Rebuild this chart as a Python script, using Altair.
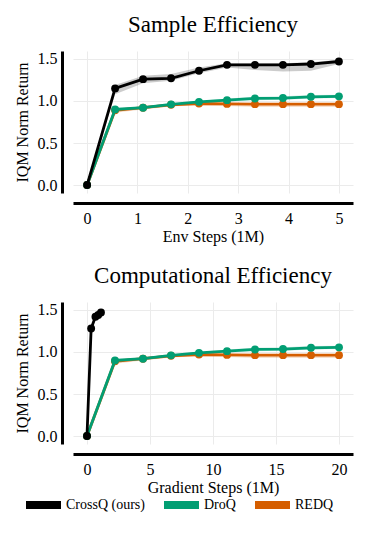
import altair as alt
import pandas as pd

FONT = "Liberation Serif"

methods = ["CrossQ (ours)", "DroQ", "REDQ"]
colors = ["#000000", "#029E73", "#D55E00"]
band_colors = ["#000000", "#029E73", "#D55E00"]

# Sample efficiency panel (x in 1M env steps)
env_x = [0, 0.556, 1.111, 1.667, 2.222, 2.778, 3.333, 3.889, 4.444, 5.0]
crossq_y = [0, 1.15, 1.26, 1.27, 1.36, 1.43, 1.43, 1.43, 1.44, 1.47]
crossq_lo = [0, 1.08, 1.21, 1.24, 1.33, 1.40, 1.37, 1.35, 1.36, 1.44]
crossq_hi = [0, 1.19, 1.30, 1.32, 1.40, 1.45, 1.45, 1.45, 1.46, 1.49]
droq_y = [0, 0.90, 0.92, 0.96, 0.99, 1.01, 1.03, 1.035, 1.05, 1.055]
droq_lo = [0, 0.88, 0.905, 0.945, 0.975, 0.995, 1.01, 1.015, 1.03, 1.035]
droq_hi = [0, 0.915, 0.935, 0.97, 1.0, 1.03, 1.05, 1.055, 1.07, 1.075]
redq_y = [0, 0.89, 0.92, 0.955, 0.97, 0.965, 0.962, 0.962, 0.962, 0.962]
redq_lo = [0, 0.86, 0.90, 0.935, 0.95, 0.94, 0.93, 0.93, 0.93, 0.93]
redq_hi = [0, 0.905, 0.935, 0.97, 0.985, 0.98, 0.975, 0.975, 0.975, 0.975]

# Computational efficiency panel (x in 1M gradient steps)
grad_x_crossq = [0, 0.33, 0.67, 0.89, 1.11]
grad_crossq_y = [0, 1.28, 1.42, 1.44, 1.47]
grad_crossq_lo = [0, 1.24, 1.39, 1.40, 1.44]
grad_crossq_hi = [0, 1.31, 1.45, 1.46, 1.49]
grad_x_other = [0, 2.222, 4.444, 6.667, 8.889, 11.111, 13.333, 15.556, 17.778, 20.0]

env_x_ticks = [0, 1, 2, 3, 4, 5]
grad_x_ticks = [0, 5, 10, 15, 20]
y_ticks = [0.0, 0.5, 1.0, 1.5]

cscale = alt.Scale(domain=methods, range=colors)

legend = alt.Legend(title=None, orient="none", legendX=-50, legendY=447,
                    direction="horizontal", symbolType="M-1,-1H7.75V1H-1Z",
                    symbolSize=64, symbolStrokeWidth=0, labelOffset=29,
                    columnPadding=16, padding=0)


def frame(method, xs, ys, lo, hi):
    return pd.DataFrame({"method": method, "x": xs, "y": ys, "lo": lo, "hi": hi})


def panel(series, title, xtitle, xdomain, xticks):
    xs = alt.Scale(domain=xdomain, nice=False, zero=False)
    ys = alt.Scale(domain=[-0.095, 1.595], nice=False, zero=False)
    xaxis = alt.Axis(values=xticks, format="d", title=xtitle, grid=True,
                     gridColor="#ebebeb", gridWidth=1, ticks=False,
                     domainColor="black", domainWidth=3, offset=10,
                     labelPadding=7, titlePadding=2, labelFlush=False)
    yaxis = alt.Axis(values=y_ticks, format=".1f", title="IQM Norm Return",
                     grid=True, gridColor="#ebebeb", gridWidth=1, ticks=False,
                     domainColor="black", domainWidth=3, offset=11,
                     labelPadding=5, titlePadding=7, labelFlush=False)
    enc_x = alt.X("x:Q", scale=xs, axis=xaxis)
    enc_y = alt.Y("y:Q", scale=ys, axis=yaxis)
    layers = []
    for method, color, bcolor, df in series:
        band = alt.Chart(df).mark_area(color=bcolor, opacity=0.2).encode(
            x=enc_x, y=alt.Y("lo:Q", scale=ys, axis=yaxis), y2="hi:Q")
        line = alt.Chart(df).mark_line(color=color, strokeWidth=2.8).encode(
            x=enc_x, y=enc_y)
        pts = alt.Chart(df).mark_circle(size=62, opacity=1).encode(
            x=enc_x, y=enc_y,
            color=alt.Color("method:N", scale=cscale, sort=methods, legend=legend))
        layers += [band, line, pts]
    return alt.layer(*layers).properties(
        width=280, height=142,
        title=alt.TitleParams(title, font=FONT, fontSize=23, fontWeight="normal",
                              color="black", anchor="middle", offset=14))


top = panel([
    ("REDQ", colors[2], band_colors[2], frame("REDQ", env_x, redq_y, redq_lo, redq_hi)),
    ("DroQ", colors[1], band_colors[1], frame("DroQ", env_x, droq_y, droq_lo, droq_hi)),
    ("CrossQ (ours)", colors[0], band_colors[0], frame("CrossQ (ours)", env_x, crossq_y, crossq_lo, crossq_hi)),
], "Sample Efficiency", "Env Steps (1M)", [-0.28, 5.28], env_x_ticks)

bottom = panel([
    ("REDQ", colors[2], band_colors[2], frame("REDQ", grad_x_other, redq_y, redq_lo, redq_hi)),
    ("DroQ", colors[1], band_colors[1], frame("DroQ", grad_x_other, droq_y, droq_lo, droq_hi)),
    ("CrossQ (ours)", colors[0], band_colors[0], frame("CrossQ (ours)", grad_x_crossq, grad_crossq_y, grad_crossq_lo, grad_crossq_hi)),
], "Computational Efficiency", "Gradient Steps (1M)", [-1.11, 21.11], grad_x_ticks)

chart = alt.vconcat(top, bottom, spacing=20).resolve_scale(color="shared").configure_view(
    stroke=None
).configure_axis(
    labelFont=FONT, labelFontSize=16, labelColor="black",
    titleFont=FONT, titleFontSize=16, titleFontWeight="normal", titleColor="black",
).configure_legend(
    labelFont=FONT, labelFontSize=14, labelColor="black", symbolOpacity=1,
    offset=0, padding=0,
).properties(padding={"left": 5, "top": 5, "right": 5, "bottom": 0})

chart.save("out.html", embed_options={"renderer": "svg", "actions": False})
